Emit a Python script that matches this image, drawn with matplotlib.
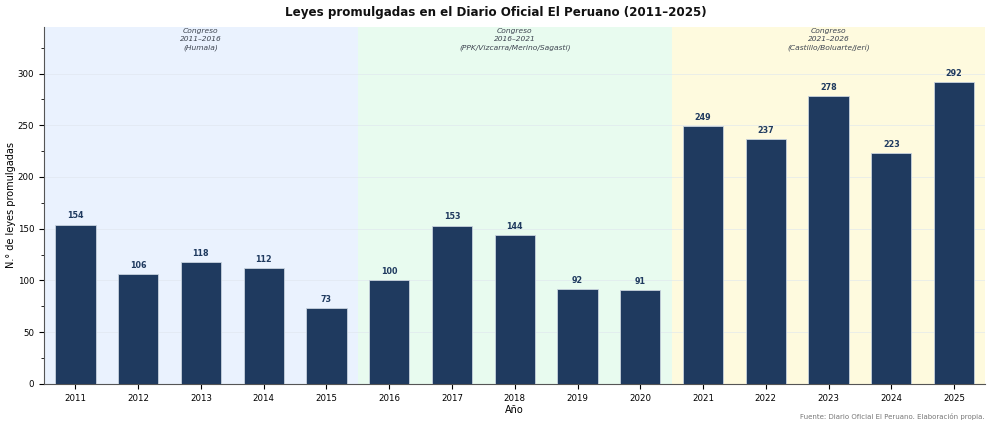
import matplotlib
matplotlib.use("Agg")
import matplotlib.pyplot as plt
from matplotlib.ticker import MultipleLocator

years = [2011, 2012, 2013, 2014, 2015, 2016, 2017, 2018, 2019, 2020, 2021, 2022, 2023, 2024, 2025]
leyes = [154, 106, 118, 112, 73, 100, 153, 144, 92, 91, 249, 237, 278, 223, 292]
periods = ["Congreso\n2011–2016\n(Humala)",
           "Congreso\n2016–2021\n(PPK/Vizcarra/Merino/Sagasti)",
           "Congreso\n2021–2026\n(Castillo/Boluarte/Jerí)"]
period_ranges = [(0, 4), (5, 9), (10, 14)]
period_colors = ["#eaf2fe", "#e8fbef", "#fefade"]

fig = plt.figure(figsize=(9.92, 4.28), dpi=100)
ax = fig.add_axes([0.0444, 0.103, 0.949, 0.834])

x = list(range(len(years)))
for (a, b), c, lab in zip(period_ranges, period_colors, periods):
    ax.axvspan(a - 0.5, b + 0.5, color=c, zorder=0, lw=0)
    ax.text((a + b) / 2, 0.997, lab, transform=ax.get_xaxis_transform(),
            ha="center", va="top", fontsize=5.4, style="italic", color="#3d4450",
            linespacing=1.45)

ax.grid(axis="y", color="#dfe6ee", lw=0.6, alpha=0.7, zorder=1)
ax.bar(x, leyes, width=0.64, color="#1f3a5f", edgecolor="#c8d3de", linewidth=0.6, zorder=3)
for xi, v in zip(x, leyes):
    ax.text(xi, v + 4, str(v), ha="center", va="bottom", fontsize=5.8,
            fontweight="bold", color="#1f3a5f", zorder=4)

ax.set_xlim(-0.5, 14.5)
ax.set_ylim(0, 345)
ax.set_xticks(x)
ax.set_xticklabels([str(y) for y in years], fontsize=6.2)
ax.yaxis.set_major_locator(MultipleLocator(50))
ax.yaxis.set_minor_locator(MultipleLocator(25))
ax.tick_params(axis="y", labelsize=6.2)
ax.tick_params(axis="both", which="major", length=3.5)
ax.tick_params(axis="y", which="minor", length=2)
ax.set_xlabel("Año", fontsize=7, labelpad=2)
ax.set_ylabel("N.° de leyes promulgadas", fontsize=7, labelpad=1.5)
ax.spines["top"].set_visible(False)
ax.spines["right"].set_visible(False)
for s in ("left", "bottom"):
    ax.spines[s].set_color("#555555")

fig.suptitle("Leyes promulgadas en el Diario Oficial El Peruano (2011–2025)",
             fontsize=8.6, fontweight="bold", y=0.985, color="#111111")
fig.text(0.993, 0.018, "Fuente: Diario Oficial El Peruano. Elaboración propia.",
         ha="right", va="bottom", fontsize=5.0, color="#777777")

fig.savefig("out.png", dpi=100)
